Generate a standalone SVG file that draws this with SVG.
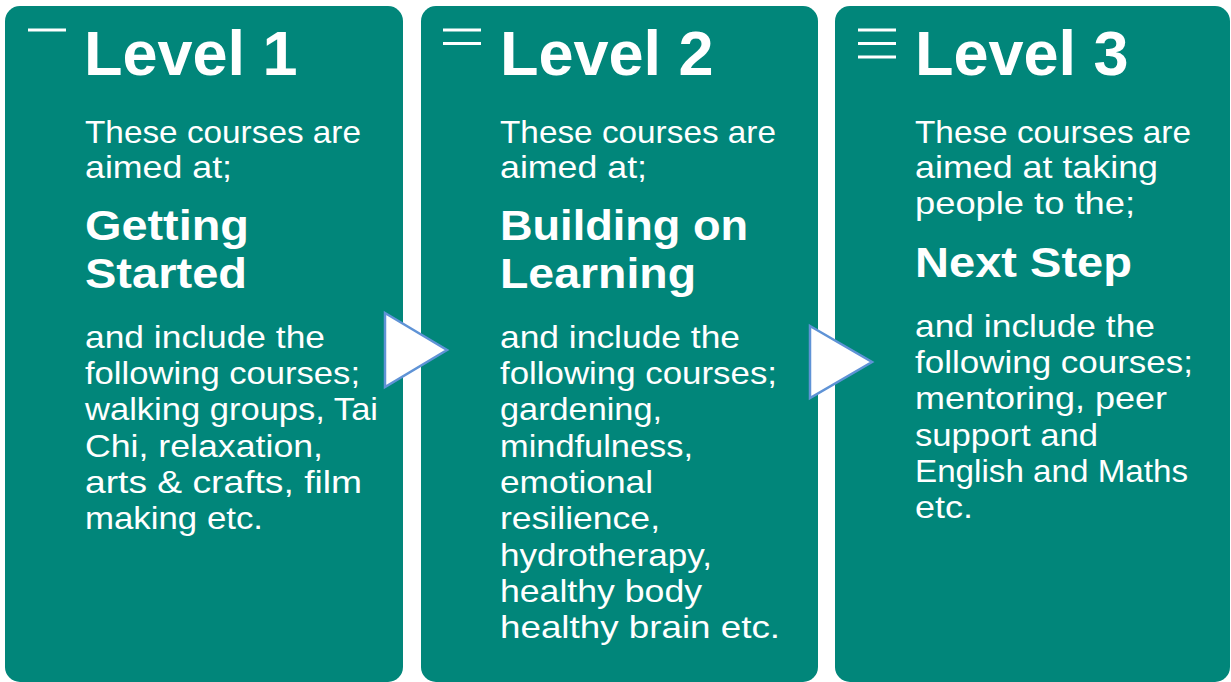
<svg xmlns="http://www.w3.org/2000/svg" width="1231" height="682" viewBox="0 0 1231 682">
  <style>
    .panel { fill: #01867A; }
    .bar { fill: #FFFFFF; }
    .title { font-family: "Liberation Sans", Arial, sans-serif; font-weight: bold; font-size: 63px; fill: #FFFFFF; }
    .body { font-family: "Liberation Sans", Arial, sans-serif; font-size: 32px; fill: #FFFFFF; }
    .key { font-family: "Liberation Sans", Arial, sans-serif; font-weight: bold; font-size: 42px; fill: #FFFFFF; }
    .chevron { fill: #FFFFFF; stroke: #5F93D6; stroke-width: 2.5; stroke-linejoin: miter; }
  </style>

  <rect width="1231" height="682" fill="#FFFFFF"/>

  <!-- Level 1 -->
  <g id="level1">
    <rect class="panel" x="5" y="6" width="398" height="676" rx="15"/>
    <rect class="bar" x="28" y="28.5" width="38" height="3"/>
    <text class="title" x="84" y="75">Level 1</text>
    <text class="body" x="85" y="143" textLength="276" lengthAdjust="spacingAndGlyphs">These courses are</text>
    <text class="body" x="85" y="178" textLength="147" lengthAdjust="spacingAndGlyphs">aimed at;</text>
    <text class="key" x="85" y="240" textLength="164" lengthAdjust="spacingAndGlyphs">Getting</text>
    <text class="key" x="85" y="288" textLength="162" lengthAdjust="spacingAndGlyphs">Started</text>
    <text class="body" x="85" y="348" textLength="240" lengthAdjust="spacingAndGlyphs">and include the</text>
    <text class="body" x="85" y="384" textLength="275" lengthAdjust="spacingAndGlyphs">following courses;</text>
    <text class="body" x="85" y="420" textLength="293" lengthAdjust="spacingAndGlyphs">walking groups, Tai</text>
    <text class="body" x="85" y="457" textLength="238" lengthAdjust="spacingAndGlyphs">Chi, relaxation,</text>
    <text class="body" x="85" y="493" textLength="277" lengthAdjust="spacingAndGlyphs">arts &amp; crafts, film</text>
    <text class="body" x="85" y="529" textLength="178" lengthAdjust="spacingAndGlyphs">making etc.</text>
  </g>

  <!-- Level 2 -->
  <g id="level2">
    <rect class="panel" x="421" y="6" width="397" height="676" rx="15"/>
    <rect class="bar" x="443" y="28.5" width="38" height="3"/>
    <rect class="bar" x="443" y="42" width="38" height="3"/>
    <text class="title" x="500" y="75">Level 2</text>
    <text class="body" x="500" y="143" textLength="276" lengthAdjust="spacingAndGlyphs">These courses are</text>
    <text class="body" x="500" y="178" textLength="147" lengthAdjust="spacingAndGlyphs">aimed at;</text>
    <text class="key" x="500" y="240" textLength="248" lengthAdjust="spacingAndGlyphs">Building on</text>
    <text class="key" x="500" y="288" textLength="196" lengthAdjust="spacingAndGlyphs">Learning</text>
    <text class="body" x="500" y="348" textLength="240" lengthAdjust="spacingAndGlyphs">and include the</text>
    <text class="body" x="500" y="384" textLength="277" lengthAdjust="spacingAndGlyphs">following courses;</text>
    <text class="body" x="500" y="420" textLength="162" lengthAdjust="spacingAndGlyphs">gardening,</text>
    <text class="body" x="500" y="457" textLength="193" lengthAdjust="spacingAndGlyphs">mindfulness,</text>
    <text class="body" x="500" y="493" textLength="153" lengthAdjust="spacingAndGlyphs">emotional</text>
    <text class="body" x="500" y="529" textLength="160" lengthAdjust="spacingAndGlyphs">resilience,</text>
    <text class="body" x="500" y="566" textLength="212" lengthAdjust="spacingAndGlyphs">hydrotherapy,</text>
    <text class="body" x="500" y="602" textLength="202" lengthAdjust="spacingAndGlyphs">healthy body</text>
    <text class="body" x="500" y="638" textLength="280" lengthAdjust="spacingAndGlyphs">healthy brain etc.</text>
  </g>

  <!-- Level 3 -->
  <g id="level3">
    <rect class="panel" x="835" y="6" width="395" height="676" rx="15"/>
    <rect class="bar" x="858" y="28.5" width="38" height="3"/>
    <rect class="bar" x="858" y="42" width="38" height="3"/>
    <rect class="bar" x="858" y="55.5" width="38" height="3"/>
    <text class="title" x="915" y="75">Level 3</text>
    <text class="body" x="915" y="143" textLength="276" lengthAdjust="spacingAndGlyphs">These courses are</text>
    <text class="body" x="915" y="178" textLength="243" lengthAdjust="spacingAndGlyphs">aimed at taking</text>
    <text class="body" x="915" y="214" textLength="220" lengthAdjust="spacingAndGlyphs">people to the;</text>
    <text class="key" x="915" y="277" textLength="217" lengthAdjust="spacingAndGlyphs">Next Step</text>
    <text class="body" x="915" y="337" textLength="240" lengthAdjust="spacingAndGlyphs">and include the</text>
    <text class="body" x="915" y="373" textLength="278" lengthAdjust="spacingAndGlyphs">following courses;</text>
    <text class="body" x="915" y="409" textLength="252" lengthAdjust="spacingAndGlyphs">mentoring, peer</text>
    <text class="body" x="915" y="446" textLength="183" lengthAdjust="spacingAndGlyphs">support and</text>
    <text class="body" x="915" y="482" textLength="273" lengthAdjust="spacingAndGlyphs">English and Maths</text>
    <text class="body" x="915" y="518" textLength="58" lengthAdjust="spacingAndGlyphs">etc.</text>
  </g>

  <!-- progression chevrons between levels -->
  <g id="connectors">
    <polygon class="chevron" points="385,313 447,350 385,387"/>
    <polygon class="chevron" points="810,326 872,362 810,398"/>
  </g>
</svg>
